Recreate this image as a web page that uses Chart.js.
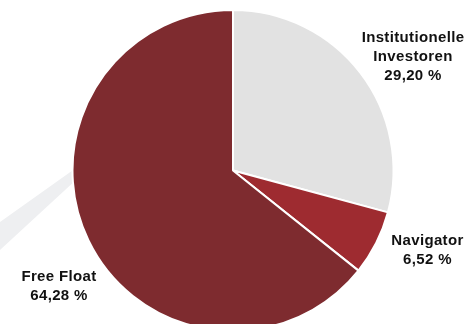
<!DOCTYPE html>
<html><head><meta charset="utf-8">
<script src="https://cdn.jsdelivr.net/npm/chart.js@4/dist/chart.umd.min.js"></script>
<style>html,body{margin:0;padding:0;overflow:hidden;background:#fff;width:465px;height:324px}canvas{display:block}</style>
</head><body>
<canvas id="c" width="465" height="332"></canvas>
<script>
const categories = ["Institutionelle Investoren", "Navigator", "Free Float"];
const labelLines = [["Institutionelle", "Investoren"], ["Navigator"], ["Free Float"]];
const shares = [29.20, 6.52, 64.28];
const valueLabels = ["29,20 %", "6,52 %", "64,28 %"];
const colors = ["#e2e2e2", "#9e2b30", "#7e2b2f"];

const labelPos = [{x:413, y:41.5}, {x:427.5, y:245}, {x:59, y:280.5}];

const bandPlugin = {
  id: 'band',
  beforeDatasetsDraw(chart) {
    const ctx = chart.ctx;
    ctx.save();
    ctx.fillStyle = '#eeeff1';
    ctx.beginPath();
    ctx.moveTo(90, 158);
    ctx.lineTo(0, 222);
    ctx.lineTo(0, 250);
    ctx.lineTo(90, 167);
    ctx.closePath();
    ctx.fill();
    ctx.restore();
  }
};

const labelPlugin = {
  id: 'labels',
  afterDatasetsDraw(chart) {
    const ctx = chart.ctx;
    ctx.save();
    ctx.fillStyle = '#111';
    ctx.font = 'bold 15px "Liberation Sans", Arial, sans-serif';
    try { ctx.letterSpacing = '0.35px'; } catch (e) {}
    ctx.textAlign = 'center';
    ctx.textBaseline = 'alphabetic';
    labelLines.forEach((lines, i) => {
      const p = labelPos[i];
      const all = lines.concat([valueLabels[i]]);
      all.forEach((t, j) => ctx.fillText(t, p.x, p.y + j * 19));
    });
    ctx.restore();
  }
};

new Chart(document.getElementById('c'), {
  type: 'pie',
  data: {
    labels: categories,
    datasets: [{
      data: shares,
      backgroundColor: colors,
      borderColor: '#ffffff',
      borderWidth: 2
    }]
  },
  options: {
    responsive: false,
    animation: false,
    layout: { padding: { top: 9, bottom: 0, left: 1, right: 0 } },
    plugins: { legend: { display: false }, tooltip: { enabled: false } }
  },
  plugins: [bandPlugin, labelPlugin]
});
</script>
</body></html>
